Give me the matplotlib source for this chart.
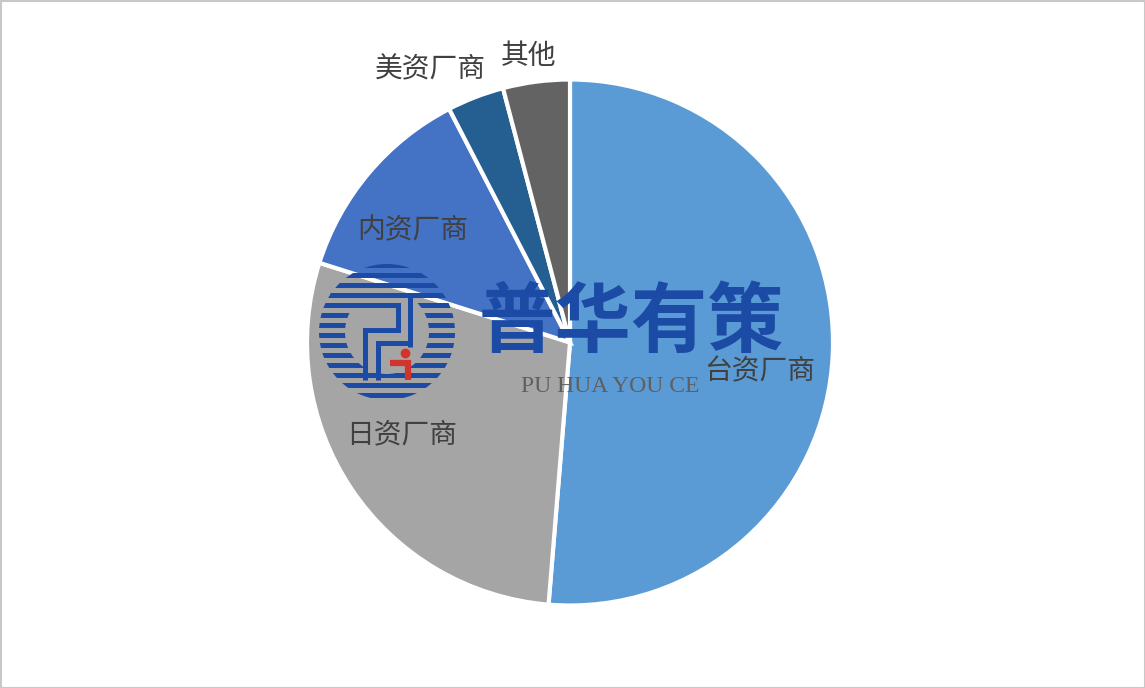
import numpy as np
import matplotlib.pyplot as plt
from matplotlib.patches import Rectangle, Wedge

plt.rcParams['font.family'] = ['Noto Sans CJK SC', 'DejaVu Sans']

labels = ['台资厂商', '日资厂商', '内资厂商', '美资厂商', '其他']
shares = [51.3, 28.6, 12.5, 3.5, 4.1]
colors = ['#5b9bd5', '#a5a5a5', '#4472c4', '#255e91', '#636363']

W, H = 1145, 688
LOGO = '#1c4ba6'

fig = plt.figure(figsize=(W / 100, H / 100), dpi=100)
ax = fig.add_axes([0, 0, 1, 1])
ax.set_xlim(0, W)
ax.set_ylim(H, 0)
ax.axis('off')
ax.add_patch(Rectangle((0.5, 0.5), W - 1, H - 1, fc='white', ec='#c8c8c8', lw=1.5))

cx, cy, r = 570, 342.5, 263
# y axis runs downwards, so counterclock=True goes clockwise on screen
ax.pie(shares, colors=colors, center=(cx, cy), radius=r, startangle=270,
       counterclock=True, wedgeprops=dict(edgecolor='white', linewidth=3), frame=False)
ax.set_xlim(0, W)
ax.set_ylim(H, 0)
ax.set_aspect('auto')

lab_xy = [(760, 371), (402, 434), (413, 230), (430, 69), (528, 56)]
for t, (x, y) in zip(labels, lab_xy):
    ax.text(x, y, t, fontsize=20, color='#404040', ha='center', va='center', zorder=5)

# watermark logo: striped ring
ring = Wedge((387, 332), 68, 0, 360, width=26, fc='none', ec='none')
ax.add_patch(ring)
for yy in np.arange(265, 400, 10):
    bar = Rectangle((315, yy - 2.5), 145, 5, fc=LOGO, ec='none', zorder=6)
    ax.add_patch(bar)
    bar.set_clip_path(ring)

# the inner line work of the logo
paths = [
    ([330, 410, 410], [295, 295, 347]),
    ([330, 398, 398, 365, 365], [305, 305, 330, 330, 380]),
    ([378, 378, 408], [380, 343, 343]),
]
for xs, ys in paths:
    ax.plot(xs, ys, color=LOGO, lw=3.6, solid_joinstyle='miter', solid_capstyle='butt', zorder=7)
ax.plot([390, 408, 408], [363, 363, 380], color='#d0342c', lw=4.5,
        solid_joinstyle='miter', solid_capstyle='butt', zorder=8)
ax.plot([405], [353], 'o', color='#d0342c', ms=6, zorder=8)

ax.text(631, 323, '普华有策', color=LOGO, fontsize=55, fontweight='bold',
        ha='center', va='center', zorder=9)
ax.text(610, 387, 'PU HUA YOU CE', color='#5f5f5f', fontsize=17, family='Liberation Serif',
        ha='center', va='center', zorder=9)

fig.savefig('out.png', dpi=100)
